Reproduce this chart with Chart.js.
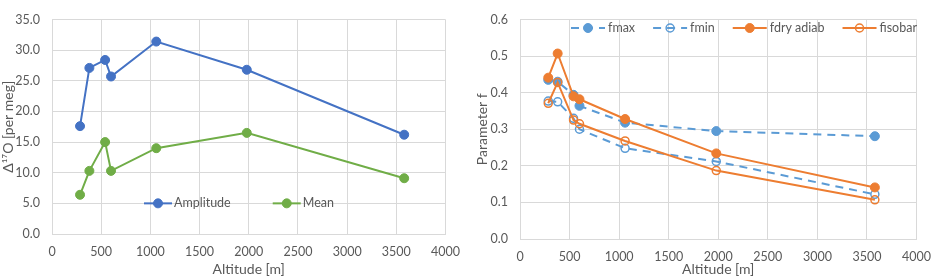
<!DOCTYPE html>
<html>
<head>
<meta charset="utf-8">
<script src="https://cdn.jsdelivr.net/npm/chart.js@4.4.1/dist/chart.umd.min.js"></script>
<style>
  body { margin: 0; background: #ffffff; }
  #wrap { position: relative; width: 941px; height: 279px; }
  #c1 { position: absolute; left: 0; top: 0; }
  #c2 { position: absolute; left: 470px; top: 0; }
</style>
</head>
<body>
<div id="wrap">
  <canvas id="c1" width="470" height="279"></canvas>
  <canvas id="c2" width="471" height="279"></canvas>
</div>
<script>
// Datos
const altitudes = [285, 380, 540, 600, 1060, 1980, 3580];
const amplitude = [17.6, 27.1, 28.4, 25.7, 31.4, 26.8, 16.2];
const mean = [6.4, 10.3, 15.0, 10.3, 14.0, 16.5, 9.1];

const fmax = [0.435, 0.430, 0.394, 0.364, 0.318, 0.295, 0.281];
const fmin = [0.377, 0.375, 0.330, 0.300, 0.248, 0.212, 0.122];
const fdryAdiab = [0.441, 0.507, 0.390, 0.382, 0.328, 0.234, 0.141];
const fisobar = [0.371, 0.428, 0.325, 0.315, 0.268, 0.187, 0.107];

const xTicks = [0, 500, 1000, 1500, 2000, 2500, 3000, 3500, 4000];

const GRID = '#d9d9d9';
const TEXT = '#595959';
const FONT = 'Lato, "Open Sans", sans-serif';

Chart.defaults.font.family = FONT;
Chart.defaults.color = TEXT;

function toPoints(ys) {
    return altitudes.map((x, i) => ({ x: x, y: ys[i] }));
}

// Leyenda dibujada dentro del area del grafico (como en Excel)
const insideLegend = {
    id: 'insideLegend',
    afterDraw(chart, args, opts) {
        const ctx = chart.ctx;
        ctx.save();
        ctx.font = '12.5px ' + FONT;
        ctx.textBaseline = 'middle';
        let x = opts.x;
        const y = typeof opts.yValue === 'number' ? chart.scales.y.getPixelForValue(opts.yValue) : opts.y;
        chart.data.datasets.forEach(ds => {
            ctx.strokeStyle = ds.borderColor;
            ctx.lineWidth = ds.borderWidth;
            ctx.setLineDash(ds.borderDash || []);
            ctx.beginPath();
            ctx.moveTo(x, y);
            ctx.lineTo(x + opts.lineLen, y);
            ctx.stroke();
            ctx.setLineDash([]);
            ctx.beginPath();
            ctx.arc(x + opts.lineLen / 2, y, ds.pointRadius, 0, Math.PI * 2);
            if (ds.pointBackgroundColor !== 'transparent') {
                ctx.fillStyle = ds.pointBackgroundColor;
                ctx.fill();
            }
            ctx.lineWidth = ds.pointBorderWidth;
            ctx.strokeStyle = ds.pointBorderColor;
            ctx.stroke();
            ctx.fillStyle = TEXT;
            ctx.fillText(ds.label, x + opts.lineLen + opts.textGap, y);
            x += opts.lineLen + opts.textGap + ctx.measureText(ds.label).width + opts.itemGap;
        });
        ctx.restore();
    }
};

function xScale(height, labelPad) {
    return {
        type: 'linear',
        min: 0,
        max: 4000,
        afterBuildTicks: s => { s.ticks = xTicks.map(v => ({ value: v })); },
        afterFit: s => { s.height = height; },
        grid: { color: GRID, drawTicks: false },
        border: { color: GRID },
        ticks: { padding: labelPad, font: { size: 12.5 }, color: TEXT, maxRotation: 0, callback: v => String(v) },
        title: { display: true, text: 'Altitude [m]', font: { size: 14 }, color: TEXT, padding: { top: 0, bottom: 1 } }
    };
}

function serie(label, ys, color, opts) {
    return Object.assign({
        label: label,
        data: toPoints(ys),
        showLine: true,
        borderColor: color,
        borderWidth: 2,
        pointRadius: 4.5,
        pointHoverRadius: 4.5,
        pointBackgroundColor: color,
        pointBorderColor: color,
        pointBorderWidth: 1
    }, opts || {});
}

// Grafico 1: amplitud y media
new Chart(document.getElementById('c1').getContext('2d'), {
    type: 'scatter',
    data: {
        datasets: [
            serie('Amplitude', amplitude, '#4472c4', { order: 1 }),
            serie('Mean', mean, '#70ad47', { order: 0 })
        ]
    },
    options: {
        responsive: false,
        animation: false,
        devicePixelRatio: 1,
        layout: { padding: { top: 7, right: 20, bottom: 0, left: 0 } },
        plugins: {
            legend: { display: false },
            tooltip: { enabled: false },
            insideLegend: { x: 144, yValue: 5, lineLen: 28, textGap: 2, itemGap: 42 }
        },
        scales: {
            x: xScale(45, 10),
            y: {
                min: 0,
                max: 35,
                ticks: { stepSize: 5, padding: 12, font: { size: 12.5 }, color: TEXT, callback: v => v.toFixed(1) },
                afterFit: s => { s.width = 52; },
                grid: { color: GRID, drawTicks: false },
                border: { color: GRID },
                title: { display: true, text: 'Δ¹⁷O [per meg]', font: { size: 14 }, color: TEXT, padding: 0 }
            }
        }
    },
    plugins: [insideLegend]
});

// Grafico 2: parametro f
new Chart(document.getElementById('c2').getContext('2d'), {
    type: 'scatter',
    data: {
        datasets: [
            serie('fmax', fmax, '#5b9bd5', { borderDash: [8, 6], order: 3 }),
            serie('fmin', fmin, '#5b9bd5', { borderDash: [8, 6], pointRadius: 4, pointBackgroundColor: 'transparent', pointBorderWidth: 1.5, order: 2 }),
            serie('fdry adiab', fdryAdiab, '#ed7d31', { order: 1 }),
            serie('fisobar', fisobar, '#ed7d31', { pointRadius: 4, pointBackgroundColor: 'transparent', pointBorderWidth: 1.5, order: 0 })
        ]
    },
    options: {
        responsive: false,
        animation: false,
        devicePixelRatio: 1,
        layout: { padding: { top: 6, right: 15, bottom: 0, left: 0 } },
        plugins: {
            legend: { display: false },
            tooltip: { enabled: false },
            insideLegend: { x: 101, y: 28, lineLen: 34, textGap: 3, itemGap: 18 }
        },
        scales: {
            x: xScale(40, 10),
            y: {
                min: 0,
                max: 0.6,
                ticks: { stepSize: 0.1, padding: 12, font: { size: 12.5 }, color: TEXT, callback: v => v.toFixed(1) },
                afterFit: s => { s.width = 50; },
                grid: { color: GRID, drawTicks: false },
                border: { color: GRID },
                title: { display: true, text: 'Parameter f', font: { size: 14 }, color: TEXT, padding: { top: 4, bottom: 0 } }
            }
        }
    },
    plugins: [insideLegend]
});
</script>
</body>
</html>
